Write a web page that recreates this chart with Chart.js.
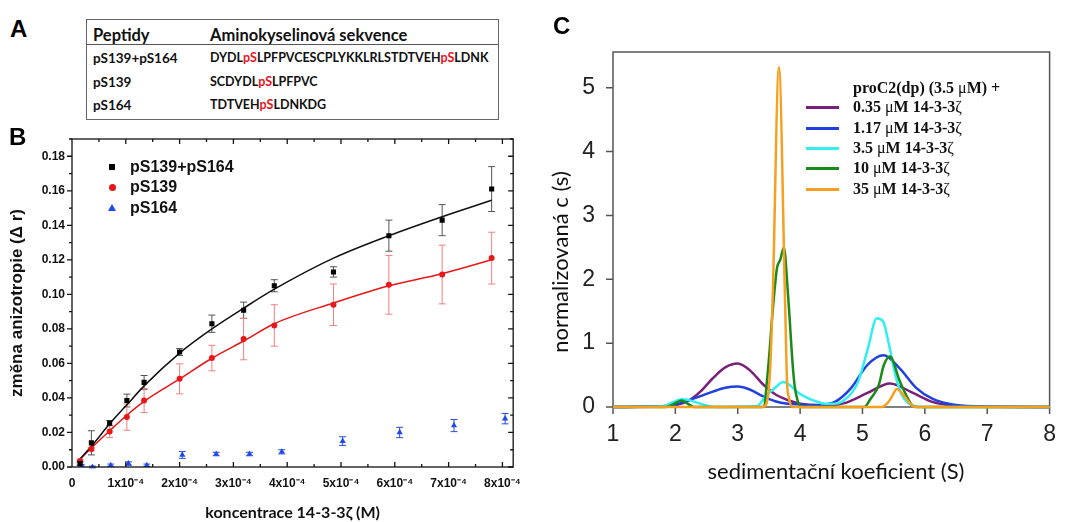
<!DOCTYPE html>
<html>
<head>
<meta charset="utf-8">
<script src="https://cdn.jsdelivr.net/npm/chart.js@4.4.1/dist/chart.umd.min.js"></script>
<style>
  body { margin: 0; width: 1070px; height: 522px; position: relative; overflow: hidden; background: #fff; font-family: 'Liberation Sans', Arial, sans-serif; }
  .t { position: absolute; white-space: nowrap; }
  .panel { font-weight: bold; font-size: 24px; line-height: 28px; color: #000; }
  #tableA { position: absolute; left: 86px; top: 19px; width: 411px; height: 99px; border: 1px solid #666; }
  #tableA .hline { position: absolute; left: 0; top: 24px; width: 100%; height: 1px; background: #555; }
  .cal { font-family: Lato, 'Liberation Sans', sans-serif; font-weight: bold; color: #111; line-height: 18px; }
  .hd { font-size: 16.5px; }
  .rw { font-size: 12.5px; }
  .lb { font-size: 13.5px; }
  .red { color: #e8141e; }
  canvas { position: absolute; }
  .legB { font-weight: bold; font-size: 16px; line-height: 18px; color: #111; }
  .legC { font-family: 'Liberation Serif', 'DejaVu Serif', serif; font-weight: bold; font-size: 16px; line-height: 18px; color: #111; }
  .legC i { font-style: normal; font-weight: normal; }
  .sw { position: absolute; width: 33px; height: 3px; }
  .axC { font-family: Lato, 'Liberation Sans', sans-serif; font-size: 22px; line-height: 26px; color: #111; }
</style>
</head>
<body>
<canvas id="chartB" width="530" height="402" style="left:0;top:120px"></canvas>
<canvas id="chartC" width="530" height="522" style="left:540px;top:0"></canvas>

<!-- panel letters -->
<div class="t panel" style="left:10px;top:15px">A</div>
<div class="t panel" style="left:9px;top:123px">B</div>
<div class="t panel" style="left:553px;top:12px">C</div>

<!-- panel A: peptide table -->
<div id="tableA"><div class="hline"></div></div>
<div class="t cal hd" style="left:93px;top:26px">Peptidy</div>
<div class="t cal hd" style="left:210px;top:26px">Aminokyselinová sekvence</div>
<div class="t cal lb" style="left:93px;top:49px">pS139+pS164</div>
<div class="t cal rw" style="left:210px;top:49px">DYDL<span class="red">pS</span>LPFPVCESCPLYKKLRLSTDTVEH<span class="red">pS</span>LDNK</div>
<div class="t cal lb" style="left:93px;top:73px">pS139</div>
<div class="t cal rw" style="left:210px;top:73px">SCDYDL<span class="red">pS</span>LPFPVC</div>
<div class="t cal lb" style="left:93px;top:96px">pS164</div>
<div class="t cal rw" style="left:210px;top:96px">TDTVEH<span class="red">pS</span>LDNKDG</div>

<!-- panel B legend -->
<div class="t" style="left:109px;top:164px;width:6px;height:6px;background:#000"></div>
<div class="t" style="left:109px;top:184px;width:7px;height:7px;border-radius:50%;background:#e81818"></div>
<div class="t" style="left:108px;top:204px;width:0;height:0;border-left:4px solid transparent;border-right:4px solid transparent;border-bottom:7px solid #1f4ae8"></div>
<div class="t legB" style="left:130px;top:158px">pS139+pS164</div>
<div class="t legB" style="left:130px;top:178px">pS139</div>
<div class="t legB" style="left:130px;top:199px">pS164</div>

<!-- panel C legend and axis titles -->
<div class="t legC" style="left:853px;top:79px">proC2(dp) (3.5 <i>μ</i>M) +</div>
<div class="sw" style="left:806px;top:106px;background:#7a1f7a"></div>
<div class="sw" style="left:806px;top:127px;background:#2040e0"></div>
<div class="sw" style="left:806px;top:147px;background:#33eeee"></div>
<div class="sw" style="left:806px;top:167px;background:#1a8a1a"></div>
<div class="sw" style="left:806px;top:188px;background:#f5a020"></div>
<div class="t legC" style="left:853px;top:98px">0.35 <i>μ</i>M 14-3-3<i>ζ</i></div>
<div class="t legC" style="left:853px;top:119px">1.17 <i>μ</i>M 14-3-3<i>ζ</i></div>
<div class="t legC" style="left:853px;top:139px">3.5 <i>μ</i>M 14-3-3<i>ζ</i></div>
<div class="t legC" style="left:853px;top:159px">10 <i>μ</i>M 14-3-3<i>ζ</i></div>
<div class="t legC" style="left:853px;top:180px">35 <i>μ</i>M 14-3-3<i>ζ</i></div>
<div class="t axC" style="left:836px;top:458px;transform:translateX(-50%)">sedimentační koeficient (S)</div>
<div class="t axC" style="left:560px;top:262px;transform:translate(-50%,-50%) rotate(-90deg)">normalizovaná c (s)</div>

<script>
// panel B: fluorescence anisotropy titration (x in M)
var concB = [0.15e-4, 0.36e-4, 0.70e-4, 1.02e-4, 1.34e-4, 2.0e-4, 2.6e-4, 3.19e-4, 3.76e-4, 4.86e-4, 5.89e-4, 6.88e-4, 7.8e-4];
var bothVals = [0.002, 0.014, 0.0254, 0.0385, 0.049, 0.0666, 0.083, 0.0908, 0.105, 0.113, 0.134, 0.143, 0.161];
var bothErr = [0.001, 0.007, 0.0015, 0.0037, 0.004, 0.002, 0.005, 0.0047, 0.0035, 0.003, 0.009, 0.009, 0.013];
var s139Vals = [0.0035, 0.0104, 0.0205, 0.0289, 0.0385, 0.0511, 0.0631, 0.0741, 0.082, 0.094, 0.1055, 0.1115, 0.121];
var s139Err = [0.001, 0.001, 0.0035, 0.0076, 0.007, 0.0087, 0.0074, 0.012, 0.012, 0.012, 0.017, 0.017, 0.015];
var concS164 = [0.17e-4, 0.38e-4, 0.72e-4, 1.05e-4, 1.39e-4, 2.05e-4, 2.68e-4, 3.3e-4, 3.9e-4, 5.03e-4, 6.09e-4, 7.1e-4, 8.05e-4];
var s164Vals = [0.001, 0.0, 0.001, 0.002, 0.001, 0.007, 0.0075, 0.0075, 0.0088, 0.015, 0.020, 0.024, 0.028];
var s164Err = [0.0005, 0.0005, 0.0007, 0.001, 0.0007, 0.002, 0.001, 0.001, 0.0012, 0.0025, 0.003, 0.0035, 0.003];
// fitted binding curves
var fitConc = [0.1e-4, 0.36e-4, 0.70e-4, 1.02e-4, 1.34e-4, 2.0e-4, 2.6e-4, 3.19e-4, 3.76e-4, 4.86e-4, 5.89e-4, 6.88e-4, 7.8e-4];
var bothFit = [0.003, 0.012, 0.025, 0.036, 0.047, 0.066, 0.080, 0.092, 0.103, 0.121, 0.134, 0.145, 0.1545];
var s139Fit = [0.003, 0.011, 0.021, 0.030, 0.038, 0.051, 0.063, 0.073, 0.083, 0.095, 0.105, 0.112, 0.120];

// panel C: c(s) distributions (x = sedimentation coefficient in S)
var sPurple = [1, 1.8, 2.0, 2.2, 2.4, 2.6, 2.8, 3.0, 3.2, 3.4, 3.6, 3.8, 4.0, 4.2, 4.4, 4.71, 5.08, 5.44, 5.81, 6.12, 6.38, 6.8, 8];
var cPurple = [0, 0.01, 0.03, 0.09, 0.24, 0.45, 0.62, 0.68, 0.57, 0.36, 0.20, 0.11, 0.05, 0.03, 0.02, 0.06, 0.22, 0.37, 0.22, 0.08, 0.03, 0.005, 0];
var sBlue = [1, 1.8, 2.0, 2.2, 2.4, 2.6, 2.8, 3.0, 3.2, 3.4, 3.6, 3.8, 4.0, 4.2, 4.4, 4.56, 4.82, 5.08, 5.34, 5.6, 5.86, 6.12, 6.38, 6.8, 8];
var cBlue = [0, 0.01, 0.04, 0.10, 0.17, 0.24, 0.30, 0.32, 0.27, 0.17, 0.09, 0.05, 0.04, 0.03, 0.04, 0.08, 0.30, 0.66, 0.81, 0.60, 0.30, 0.13, 0.05, 0.01, 0];
var sCyan = [1, 1.8, 1.95, 2.1, 2.25, 2.4, 2.55, 2.7, 3.3, 3.45, 3.6, 3.73, 3.85, 3.95, 4.1, 4.25, 4.4, 4.55, 4.71, 4.92, 5.08, 5.23, 5.33, 5.42, 5.52, 5.62, 5.73, 5.85, 6.0, 8];
var cCyan = [0, 0.01, 0.07, 0.12, 0.10, 0.05, 0.01, 0, 0.01, 0.17, 0.30, 0.39, 0.33, 0.24, 0.15, 0.09, 0.05, 0.05, 0.11, 0.37, 0.89, 1.39, 1.34, 1.0, 0.53, 0.21, 0.06, 0.01, 0, 0];
var sGreen = [1, 1.85, 2.0, 2.1, 2.2, 2.3, 3.41, 3.49, 3.56, 3.63, 3.68, 3.74, 3.8, 3.83, 3.87, 3.91, 3.96, 4.02, 5.03, 5.13, 5.26, 5.34, 5.44, 5.6, 5.73, 5.8, 5.86, 8];
var cGreen = [0, 0, 0.06, 0.10, 0.05, 0, 0, 0.64, 1.5, 2.18, 2.3, 2.5, 1.85, 1.42, 0.8, 0.35, 0.1, 0, 0, 0.13, 0.34, 0.65, 0.79, 0.40, 0.13, 0.02, 0, 0];
var sOrange = [1, 3.40, 3.46, 3.52, 3.56, 3.66, 3.76, 3.79, 3.82, 3.88, 5.31, 5.4, 5.47, 5.55, 5.62, 5.68, 5.8, 5.86, 8];
var cOrange = [0, 0, 0.05, 0.6, 1.7, 5.32, 1.6, 0.4, 0.15, 0, 0, 0.06, 0.16, 0.28, 0.23, 0.16, 0.02, 0, 0];

function pts(xs, ys) {
    return xs.map(function (x, i) { return { x: x, y: ys[i] }; });
}

// error bars drawn under the markers
var errorBars = {
    id: 'errorBars',
    beforeDatasetsDraw: function (chart) {
        var ctx = chart.ctx, y = chart.scales.y, x = chart.scales.x;
        chart.data.datasets.forEach(function (ds) {
            if (!ds.errors) return;
            ctx.save();
            ctx.strokeStyle = ds.errorColor;
            ctx.lineWidth = 1;
            ctx.beginPath();
            ds.data.forEach(function (p, j) {
                var px = x.getPixelForValue(p.x);
                var top = y.getPixelForValue(p.y + ds.errors[j]);
                var bot = y.getPixelForValue(p.y - ds.errors[j]);
                ctx.moveTo(px, top); ctx.lineTo(px, bot);
                ctx.moveTo(px - 3.5, top); ctx.lineTo(px + 3.5, top);
                ctx.moveTo(px - 3.5, bot); ctx.lineTo(px + 3.5, bot);
            });
            ctx.stroke();
            ctx.restore();
        });
    }
};

// box with ticks: left outward, bottom/top/right inward
var frameB = {
    id: 'frameB',
    afterDraw: function (chart) {
        var ctx = chart.ctx, a = chart.chartArea, x = chart.scales.x, y = chart.scales.y;
        ctx.save();
        ctx.strokeStyle = '#111';
        ctx.lineWidth = 1.3;
        ctx.strokeRect(a.left, a.top, a.right - a.left, a.bottom - a.top);
        ctx.beginPath();
        for (var k = 1; k <= 16; k++) {
            var px = x.getPixelForValue(k * 0.5e-4);
            var len = k % 2 ? 3 : 5;
            ctx.moveTo(px, a.bottom); ctx.lineTo(px, a.bottom - len);
            ctx.moveTo(px, a.top); ctx.lineTo(px, a.top + len);
        }
        for (var m = 0; m <= 19; m++) {
            var py = y.getPixelForValue(m * 0.01);
            var l2 = m % 2 ? 3 : 5;
            ctx.moveTo(a.left, py); ctx.lineTo(a.left - l2, py);
            ctx.moveTo(a.right, py); ctx.lineTo(a.right - l2, py);
        }
        ctx.stroke();
        ctx.restore();
    }
};

new Chart(document.getElementById('chartB'), {
    type: 'scatter',
    data: {
        datasets: [
            { data: pts(concB, bothVals), errors: bothErr, errorColor: '#555', pointStyle: 'rect', pointRadius: 3.6, backgroundColor: '#000', borderWidth: 0, order: 0 },
            { data: pts(concB, s139Vals), errors: s139Err, errorColor: '#f08080', pointStyle: 'circle', pointRadius: 3, backgroundColor: '#e81818', borderWidth: 0, order: 1 },
            { data: pts(concS164, s164Vals), errors: s164Err, errorColor: '#2a4fe0', pointStyle: 'triangle', pointRadius: 3.6, backgroundColor: '#1f4ae8', borderWidth: 0, order: 2 },
            { data: pts(fitConc, bothFit), showLine: true, pointRadius: 0, borderColor: '#111', borderWidth: 1.5, cubicInterpolationMode: 'monotone', order: 3 },
            { data: pts(fitConc, s139Fit), showLine: true, pointRadius: 0, borderColor: '#e81818', borderWidth: 1.5, cubicInterpolationMode: 'monotone', order: 4 }
        ]
    },
    options: {
        responsive: false,
        animation: false,
        events: [],
        layout: { padding: { top: 19, right: 11, left: 0, bottom: 0 } },
        plugins: { legend: { display: false }, tooltip: { enabled: false } },
        scales: {
            x: {
                type: 'linear', min: 0, max: 8.2e-4,
                afterFit: function (s) { s.height = 55; },
                grid: { display: false, drawTicks: false },
                border: { display: false },
                ticks: {
                    stepSize: 1e-4, includeBounds: false, autoSkip: false, maxRotation: 0, padding: 9,
                    color: '#111', font: { family: 'Liberation Sans', weight: 'bold', size: 12 },
                    callback: function (v) { var n = Math.round(v * 1e4); return n === 0 ? '0' : n + 'x10⁻⁴'; }
                },
                title: { display: true, text: 'koncentrace 14-3-3ζ (M)', color: '#111', padding: 0, font: { family: 'Lato', weight: 'bold', size: 16 } }
            },
            y: {
                min: 0, max: 0.19,
                afterFit: function (s) { s.width = 72; },
                grid: { display: false, drawTicks: false },
                border: { display: false },
                ticks: {
                    stepSize: 0.02, includeBounds: false, padding: 7,
                    color: '#111', font: { family: 'Liberation Sans', weight: 'bold', size: 12 },
                    callback: function (v) { return v.toFixed(2); }
                },
                title: { display: true, text: 'změna anizotropie (Δ r)', color: '#111', padding: { top: 7 }, font: { family: 'Liberation Sans', weight: 'bold', size: 17 } }
            }
        }
    },
    plugins: [errorBars, frameB]
});

// left/top/right border, baseline axis and outward ticks
var frameC = {
    id: 'frameC',
    beforeDatasetsDraw: function (chart) {
        var ctx = chart.ctx, a = chart.chartArea, x = chart.scales.x, y = chart.scales.y;
        ctx.save();
        ctx.strokeStyle = '#555';
        ctx.lineWidth = 1.5;
        ctx.beginPath();
        ctx.moveTo(a.left, a.bottom); ctx.lineTo(a.left, a.top); ctx.lineTo(a.right, a.top); ctx.lineTo(a.right, a.bottom);
        ctx.moveTo(a.left, a.bottom); ctx.lineTo(a.right, a.bottom);
        for (var k = 1; k <= 8; k++) {
            var px = x.getPixelForValue(k);
            ctx.moveTo(px, a.bottom); ctx.lineTo(px, a.bottom + 7);
        }
        for (var m = 0; m <= 5; m++) {
            var py = y.getPixelForValue(m);
            ctx.moveTo(a.left, py); ctx.lineTo(a.left - 7, py);
        }
        ctx.stroke();
        ctx.restore();
    }
};

function curve(xs, ys, color, order) {
    return { data: pts(xs, ys), borderColor: color, borderWidth: 2.5, pointRadius: 0, showLine: true, cubicInterpolationMode: 'monotone', clip: false, order: order };
}

new Chart(document.getElementById('chartC'), {
    type: 'scatter',
    data: {
        datasets: [
            curve(sPurple, cPurple, '#7a1f7a', 4),
            curve(sBlue, cBlue, '#2040e0', 3),
            curve(sCyan, cCyan, '#33eeee', 2),
            curve(sGreen, cGreen, '#1a8a1a', 1),
            curve(sOrange, cOrange, '#f5a020', 0)
        ]
    },
    options: {
        responsive: false,
        animation: false,
        events: [],
        layout: { padding: { top: 52, right: 17, left: 0, bottom: 0 } },
        plugins: { legend: { display: false }, tooltip: { enabled: false } },
        scales: {
            x: {
                type: 'linear', min: 1, max: 8,
                afterFit: function (s) { s.height = 115; },
                grid: { display: false, drawTicks: false },
                border: { display: false },
                ticks: { stepSize: 1, autoSkip: false, maxRotation: 0, padding: 14, color: '#222', font: { family: 'Liberation Sans', size: 23 } }
            },
            y: {
                min: 0, max: 5.56,
                afterFit: function (s) { s.width = 73; },
                grid: { display: false, drawTicks: false },
                border: { display: false },
                ticks: { stepSize: 1, includeBounds: false, padding: 18, color: '#222', font: { family: 'Liberation Sans', size: 23 } }
            }
        }
    },
    plugins: [frameC]
});
</script>
</body>
</html>
